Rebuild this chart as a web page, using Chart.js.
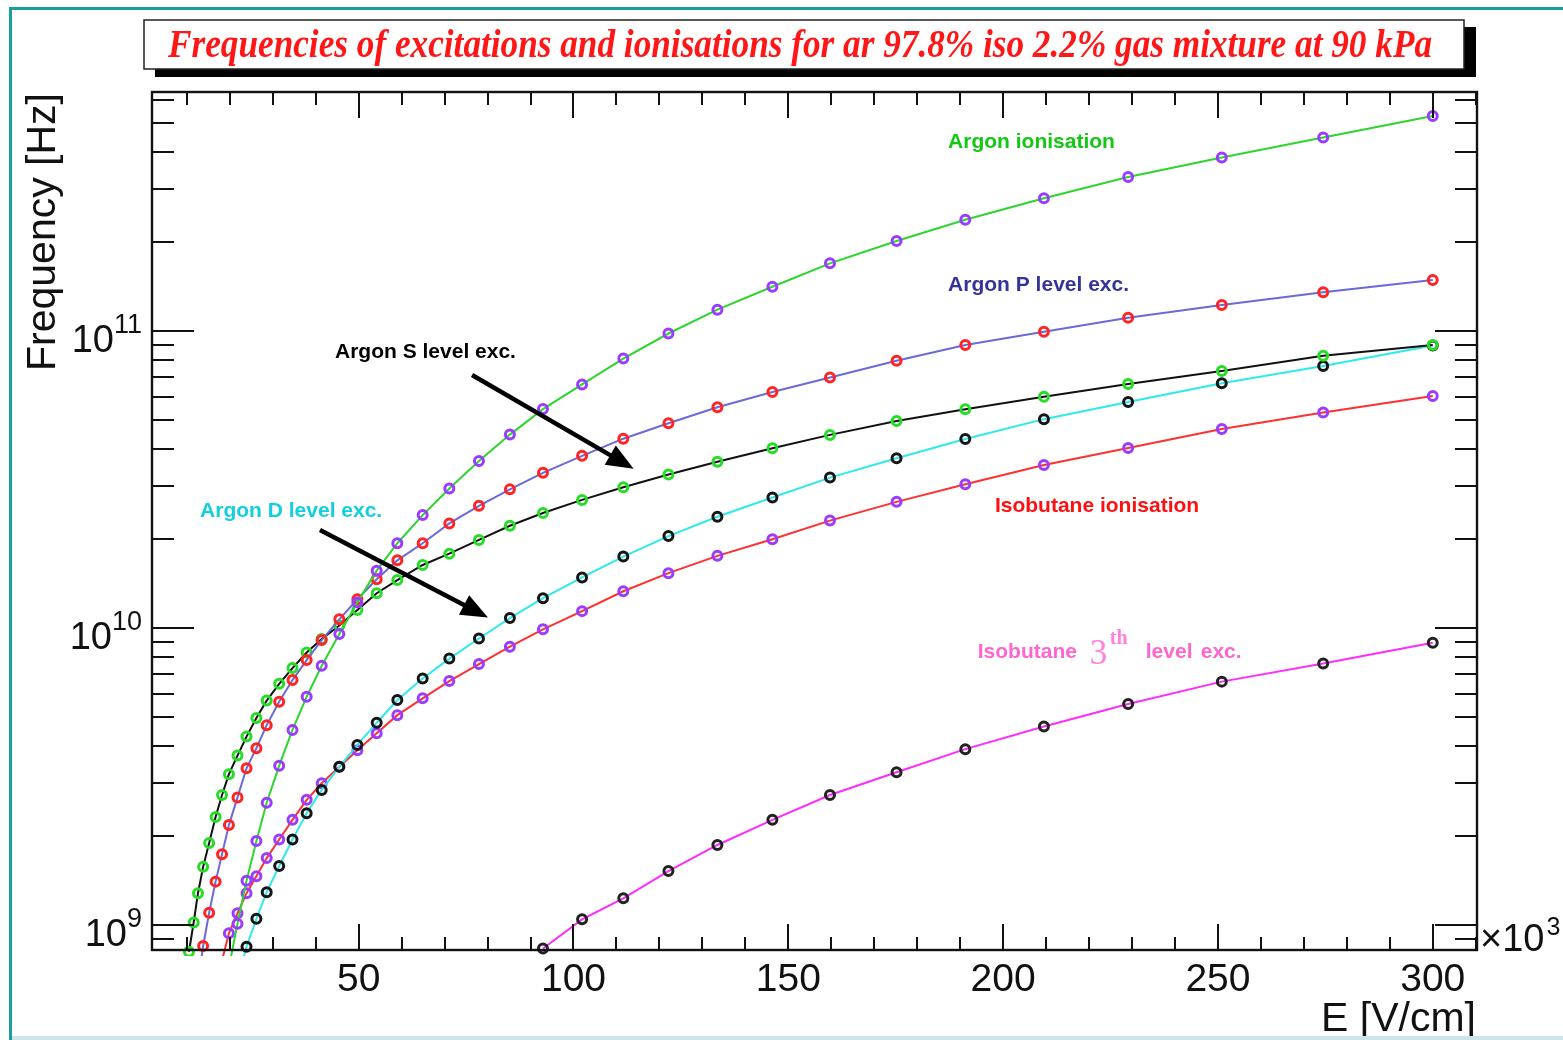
<!DOCTYPE html>
<html lang="en">
<head>
  <meta charset="UTF-8">
  <title>Frequencies of excitations and ionisations</title>
  <script src="https://cdn.jsdelivr.net/npm/chart.js"></script>
  <style>
    html, body {
      margin: 0;
      padding: 0;
      background: #fff;
      overflow: hidden;
    }
    .page {
      position: relative;
      width: 1563px;
      height: 1040px;
    }
    .edge-left {
      position: absolute;
      left: 9px;
      top: 7px;
      width: 3px;
      height: 1033px;
      background: #1a9d9b;
    }
    .edge-top {
      position: absolute;
      left: 9px;
      top: 7px;
      width: 1554px;
      height: 3px;
      background: #1a9d9b;
    }
    .edge-bottom {
      position: absolute;
      left: 12px;
      top: 1036px;
      width: 1551px;
      height: 4px;
      background: #cfe4ea;
    }
    canvas {
      position: absolute;
      left: 0;
      top: 0;
    }
  </style>
</head>
<body>
  <div class="page">
    <canvas id="freqChart" width="1563" height="1040"></canvas>
    <div class="edge-left"></div>
    <div class="edge-top"></div>
    <div class="edge-bottom"></div>
  </div>

  <script>
    // E field values (x 10^3 V/cm), shared by all curves
    const fieldE = [10.5, 11.6, 12.6, 13.8, 15.2, 16.7, 18.2, 19.8, 21.8, 23.9,
      26.2, 28.6, 31.5, 34.6, 37.9, 41.4, 45.5, 49.7, 54.2, 59.0,
      64.9, 71.1, 78.0, 85.2, 92.9, 102.0, 111.6, 122.1, 133.5, 146.3,
      159.7, 175.2, 191.2, 209.5, 229.1, 250.9, 274.5, 300.0];

    // frequencies [Hz], null where the curve is not drawn
    const argonIonisation = [null, null, null, null, null, null, null, 7.2e8, 1.01e9, 1.41e9,
      1.92e9, 2.58e9, 3.44e9, 4.54e9, 5.87e9, 7.46e9, 9.54e9, 1.22e10, 1.56e10, 1.93e10,
      2.40e10, 2.95e10, 3.65e10, 4.48e10, 5.46e10, 6.61e10, 8.08e10, 9.81e10, 1.18e11, 1.41e11,
      1.69e11, 2.01e11, 2.37e11, 2.80e11, 3.30e11, 3.84e11, 4.48e11, 5.30e11];

    const argonP = [null, null, 6.4e8, 8.5e8, 1.10e9, 1.40e9, 1.73e9, 2.17e9, 2.69e9, 3.37e9,
      3.94e9, 4.71e9, 5.65e9, 6.68e9, 7.80e9, 9.11e9, 1.07e10, 1.25e10, 1.46e10, 1.69e10,
      1.93e10, 2.25e10, 2.58e10, 2.93e10, 3.33e10, 3.80e10, 4.34e10, 4.89e10, 5.54e10, 6.23e10,
      6.98e10, 7.94e10, 8.97e10, 9.95e10, 1.109e11, 1.223e11, 1.35e11, 1.485e11];

    const argonS = [8.13e8, 1.02e9, 1.28e9, 1.57e9, 1.89e9, 2.31e9, 2.74e9, 3.22e9, 3.72e9, 4.31e9,
      4.98e9, 5.70e9, 6.49e9, 7.33e9, 8.27e9, 9.18e9, 1.02e10, 1.15e10, 1.31e10, 1.45e10,
      1.63e10, 1.78e10, 1.98e10, 2.21e10, 2.44e10, 2.70e10, 2.98e10, 3.29e10, 3.63e10, 4.03e10,
      4.47e10, 4.98e10, 5.45e10, 6.01e10, 6.63e10, 7.33e10, 8.26e10, 8.97e10];

    const argonD = [null, null, null, null, null, null, null, null, 6.6e8, 8.45e8,
      1.05e9, 1.29e9, 1.58e9, 1.94e9, 2.38e9, 2.85e9, 3.41e9, 4.04e9, 4.80e9, 5.72e9,
      6.76e9, 7.89e9, 9.22e9, 1.08e10, 1.26e10, 1.48e10, 1.74e10, 2.04e10, 2.37e10, 2.75e10,
      3.21e10, 3.73e10, 4.33e10, 5.05e10, 5.77e10, 6.67e10, 7.62e10, 8.94e10];

    const isobutaneIonisation = [null, null, null, null, null, null, 7.6e8, 9.38e8, 1.095e9, 1.28e9,
      1.46e9, 1.68e9, 1.94e9, 2.26e9, 2.64e9, 3.00e9, 3.41e9, 3.88e9, 4.42e9, 5.09e9,
      5.80e9, 6.63e9, 7.56e9, 8.65e9, 9.90e9, 1.14e10, 1.33e10, 1.53e10, 1.75e10, 1.99e10,
      2.30e10, 2.66e10, 3.05e10, 3.54e10, 4.04e10, 4.68e10, 5.32e10, 6.04e10];

    const isobutane3th = [null, null, null, null, null, null, null, null, null, null,
      null, null, null, null, null, null, null, null, null, null,
      null, null, null, null, 8.34e8, 1.045e9, 1.23e9, 1.52e9, 1.86e9, 2.26e9,
      2.74e9, 3.27e9, 3.91e9, 4.66e9, 5.55e9, 6.60e9, 7.60e9, 8.92e9];

    // axis ticks
    const xMajorTicks = [50, 100, 150, 200, 250, 300];
    const xMinorStep = 10;
    const yDecades = [9, 10, 11];

    const series = [
      { label: 'Argon ionisation', values: argonIonisation, line: '#2ed52e', ring: '#9a3cff' },
      { label: 'Argon P level exc.', values: argonP, line: '#6a6ad8', ring: '#ff2424' },
      { label: 'Argon S level exc.', values: argonS, line: '#111111', ring: '#26dc26' },
      { label: 'Argon D level exc.', values: argonD, line: '#2eeaea', ring: '#151515' },
      { label: 'Isobutane ionisation', values: isobutaneIonisation, line: '#ff3030', ring: '#9a3cff' },
      { label: 'Isobutane 3th level exc.', values: isobutane3th, line: '#ff2cff', ring: '#222222' }
    ];

    // text labels placed in data coordinates
    const notes = [
      { text: 'Argon ionisation', color: '#12c812', e: 187.2, f: 4.33e11 },
      { text: 'Argon P level exc.', color: '#33339a', e: 187.2, f: 1.43e11 },
      { text: 'Argon S level exc.', color: '#000000', e: 44.5, f: 8.5e10 },
      { text: 'Argon D level exc.', color: '#12cfe0', e: 13.1, f: 2.48e10 },
      { text: 'Isobutane ionisation', color: '#ff1010', e: 198.1, f: 2.57e10 }
    ];
    const arrows = [
      { from: [76.4, 7.11e10], to: [114.0, 3.44e10] },
      { from: [41.0, 2.14e10], to: [80.1, 1.085e10] }
    ];

    const SANS = '"Liberation Sans", Arial, sans-serif';
    const SERIF = '"Liberation Serif", "Times New Roman", serif';

    function drawArrow(ctx, x1, y1, x2, y2) {
      const ang = Math.atan2(y2 - y1, x2 - x1);
      const len = 27, half = 11;
      ctx.strokeStyle = '#000';
      ctx.fillStyle = '#000';
      ctx.lineWidth = 4.5;
      ctx.beginPath();
      ctx.moveTo(x1, y1);
      ctx.lineTo(x2 - Math.cos(ang) * len * 0.8, y2 - Math.sin(ang) * len * 0.8);
      ctx.stroke();
      ctx.beginPath();
      ctx.moveTo(x2, y2);
      ctx.lineTo(x2 - Math.cos(ang) * len + Math.sin(ang) * half, y2 - Math.sin(ang) * len - Math.cos(ang) * half);
      ctx.lineTo(x2 - Math.cos(ang) * len - Math.sin(ang) * half, y2 - Math.sin(ang) * len + Math.cos(ang) * half);
      ctx.closePath();
      ctx.fill();
    }

    const rootStyle = {
      id: 'rootStyle',
      beforeDraw(chart) {
        const ctx = chart.ctx;
        ctx.save();
        ctx.fillStyle = '#fff';
        ctx.fillRect(0, 0, chart.width, chart.height);

        // title box with drop shadow
        ctx.fillStyle = '#000';
        ctx.fillRect(155, 27, 1321, 50);
        ctx.fillStyle = '#fff';
        ctx.fillRect(144, 20, 1320, 49);
        ctx.strokeStyle = '#222';
        ctx.lineWidth = 1.5;
        ctx.strokeRect(144, 20, 1320, 49);

        const title = 'Frequencies of excitations and ionisations for ar 97.8% iso 2.2% gas mixture at 90 kPa';
        ctx.font = 'italic bold 40px ' + SERIF;
        ctx.fillStyle = '#ff1616';
        ctx.textBaseline = 'alphabetic';
        ctx.textAlign = 'left';
        const w = ctx.measureText(title).width;
        const target = 1264;
        ctx.translate(168, 57);
        ctx.scale(target / w, 1);
        ctx.fillText(title, 0, 0);
        ctx.restore();
      },
      afterDatasetsDraw(chart) {
        const { ctx, chartArea: a, scales: { x, y } } = chart;
        ctx.save();

        // frame
        ctx.strokeStyle = '#111';
        ctx.lineWidth = 2.4;
        ctx.strokeRect(a.left, a.top, a.right - a.left, a.bottom - a.top);

        // x ticks, inside the frame on bottom and top
        ctx.lineWidth = 2;
        ctx.beginPath();
        for (let v = xMinorStep; v <= x.max; v += xMinorStep) {
          const px = Math.round(x.getPixelForValue(v));
          const len = xMajorTicks.includes(v) ? 26 : 13;
          ctx.moveTo(px, a.bottom);
          ctx.lineTo(px, a.bottom - len);
          ctx.moveTo(px, a.top);
          ctx.lineTo(px, a.top + len);
        }
        // y ticks, inside the frame on left and right
        for (let e = 8; e <= 11; e++) {
          for (let m = 1; m <= 9; m++) {
            const v = m * Math.pow(10, e);
            if (v < y.min || v > y.max) continue;
            const py = Math.round(y.getPixelForValue(v));
            const len = m === 1 ? 42 : 22;
            ctx.moveTo(a.left, py);
            ctx.lineTo(a.left + len, py);
            ctx.moveTo(a.right, py);
            ctx.lineTo(a.right - len, py);
          }
        }
        ctx.stroke();

        // x tick labels
        ctx.fillStyle = '#111';
        ctx.font = '39px ' + SANS;
        ctx.textAlign = 'center';
        ctx.textBaseline = 'alphabetic';
        xMajorTicks.forEach(v => {
          ctx.fillText(String(v), x.getPixelForValue(v), 991);
        });

        // y tick labels 10^n
        yDecades.forEach(n => {
          const py = y.getPixelForValue(Math.pow(10, n));
          ctx.font = '27px ' + SANS;
          const sup = String(n);
          const sw = ctx.measureText(sup).width;
          ctx.textAlign = 'right';
          ctx.fillText(sup, 142, py + 2);
          ctx.font = '38px ' + SANS;
          ctx.fillText('10', 142 - sw, py + 21);
        });

        // x10^3 multiplier
        ctx.textAlign = 'left';
        ctx.font = '38px ' + SANS;
        ctx.fillText('\u00d710', 1480, 951);
        const mw = ctx.measureText('\u00d710').width;
        ctx.font = '25px ' + SANS;
        ctx.fillText('3', 1480 + mw + 2, 935);

        // axis titles
        ctx.font = '41px ' + SANS;
        ctx.textAlign = 'right';
        ctx.fillText('E [V/cm]', 1476, 1031);
        ctx.save();
        ctx.translate(55, 232);
        ctx.rotate(-Math.PI / 2);
        ctx.textAlign = 'center';
        ctx.fillText('Frequency [Hz]', 0, 0);
        ctx.restore();

        // curve labels
        ctx.textBaseline = 'middle';
        ctx.textAlign = 'left';
        ctx.font = 'bold 21px ' + SANS;
        notes.forEach(n => {
          ctx.fillStyle = n.color;
          ctx.fillText(n.text, x.getPixelForValue(n.e), y.getPixelForValue(n.f));
        });

        // isobutane 3th label, mixed fonts
        const lx = x.getPixelForValue(194.1);
        const ly = y.getPixelForValue(8.3e9);
        ctx.fillStyle = '#ff66cc';
        ctx.font = 'bold 21px ' + SANS;
        ctx.fillText('Isobutane', lx, ly);
        ctx.textBaseline = 'alphabetic';
        ctx.fillStyle = '#ff80dd';
        ctx.font = '35px ' + SERIF;
        ctx.fillText('3', lx + 112, ly + 12);
        ctx.font = 'bold 20px ' + SERIF;
        ctx.fillText('th', lx + 132, ly - 8);
        ctx.textBaseline = 'middle';
        ctx.fillStyle = '#ff66cc';
        ctx.font = 'bold 21px ' + SANS;
        ctx.fillText('level', lx + 168, ly);
        ctx.fillText('exc.', lx + 223, ly);

        // arrows
        arrows.forEach(ar => {
          drawArrow(ctx,
            x.getPixelForValue(ar.from[0]), y.getPixelForValue(ar.from[1]),
            x.getPixelForValue(ar.to[0]), y.getPixelForValue(ar.to[1]));
        });

        ctx.restore();
      }
    };

    const datasets = series.map(s => ({
      label: s.label,
      data: fieldE.map((e, i) => ({ x: e, y: s.values[i] })).filter(p => p.y !== null),
      borderColor: s.line,
      borderWidth: 2,
      pointRadius: 4.5,
      pointBorderWidth: 3,
      pointBorderColor: s.ring,
      pointBackgroundColor: 'rgba(0,0,0,0)',
      pointHoverRadius: 4.5,
      tension: 0,
      fill: false,
      clip: { left: 0, top: 0, right: 0, bottom: 6 }
    }));

    const chart = new Chart(document.getElementById('freqChart'), {
      type: 'line',
      data: { datasets: datasets },
      options: {
        responsive: false,
        animation: false,
        devicePixelRatio: 1,
        layout: {
          padding: { left: 152, right: 86, top: 92, bottom: 90 }
        },
        scales: {
          x: { type: 'linear', min: 1.9, max: 310.3, display: false },
          y: { type: 'logarithmic', min: 8.24e8, max: 6.38e11, display: false }
        },
        plugins: {
          legend: { display: false },
          tooltip: { enabled: false }
        }
      },
      plugins: [rootStyle]
    });
  </script>
</body>
</html>
